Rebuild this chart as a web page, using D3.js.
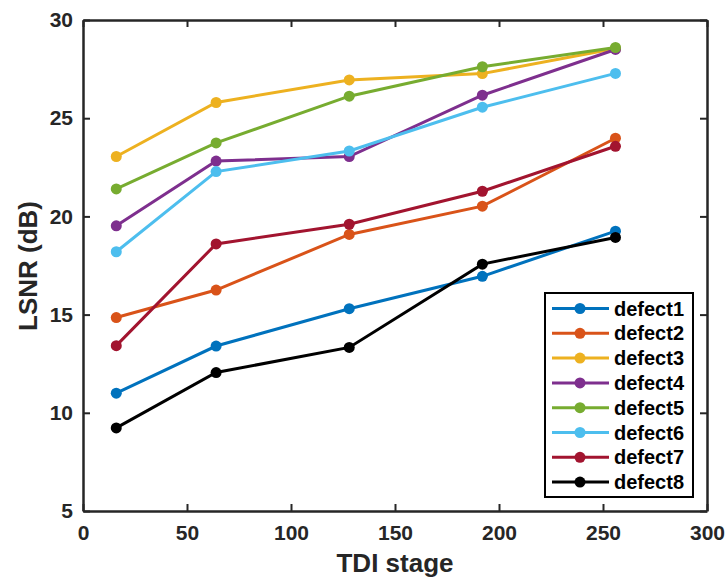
<!DOCTYPE html>
<html>
<head>
<meta charset="utf-8">
<script src="https://d3js.org/d3.v7.min.js"></script>
<style>
body { margin: 0; background: #fff; }
text { font-family: "Liberation Sans", Arial, sans-serif; font-weight: bold; }
</style>
</head>
<body>
<div id="chart"></div>
<script>
var stages = [16, 64, 128, 192, 256];
var names = ["defect1", "defect2", "defect3", "defect4", "defect5", "defect6", "defect7", "defect8"];
var colors = ["#0072BD", "#D95319", "#EDB120", "#7E2F8E", "#77AC30", "#4DBEEE", "#A2142F", "#000000"];

var defect1 = [11.0, 13.4, 15.3, 16.95, 19.25];
var defect2 = [14.85, 16.25, 19.08, 20.52, 23.98];
var defect3 = [23.05, 25.8, 26.95, 27.27, 28.55];
var defect4 = [19.52, 22.82, 23.05, 26.17, 28.5];
var defect5 = [21.4, 23.74, 26.12, 27.62, 28.6];
var defect6 = [18.2, 22.28, 23.33, 25.56, 27.28];
var defect7 = [13.42, 18.6, 19.6, 21.28, 23.57];
var defect8 = [9.23, 12.05, 13.33, 17.57, 18.93];
var series = [defect1, defect2, defect3, defect4, defect5, defect6, defect7, defect8];

var xTicks = [0, 50, 100, 150, 200, 250, 300];
var yTicks = [5, 10, 15, 20, 25, 30];

var svgW = 727, svgH = 578;
var margin = {left: 83, right: 20, top: 20, bottom: 67};
var chartW = svgW - margin.left - margin.right;
var chartH = svgH - margin.top - margin.bottom;

var svg = d3.select("#chart").append("svg")
    .attr("width", svgW)
    .attr("height", svgH);

var g = svg.append("g")
    .attr("transform", `translate(${margin.left}, ${margin.top})`);

var xScale = d3.scaleLinear().domain([0, 300]).range([0, chartW]);
var yScale = d3.scaleLinear().domain([5, 30]).range([chartH, 0]);

var axisColor = "#262626";

// axes with inward ticks, MATLAB style box
var bottomAxis = d3.axisBottom(xScale).tickValues(xTicks).tickSizeInner(-7).tickSizeOuter(0).tickPadding(14);
var leftAxis = d3.axisLeft(yScale).tickValues(yTicks).tickSizeInner(-7).tickSizeOuter(0).tickPadding(10);
var topAxis = d3.axisTop(xScale).tickValues(xTicks).tickSizeInner(-7).tickSizeOuter(0).tickFormat("");
var rightAxis = d3.axisRight(yScale).tickValues(yTicks).tickSizeInner(-7).tickSizeOuter(0).tickFormat("");

var axes = [
    g.append("g").attr("transform", `translate(0, ${chartH})`).call(bottomAxis),
    g.append("g").call(leftAxis),
    g.append("g").call(topAxis),
    g.append("g").attr("transform", `translate(${chartW}, 0)`).call(rightAxis)
];
axes.forEach(a => {
    a.select(".domain").attr("stroke", axisColor).attr("stroke-width", 2.5);
    a.selectAll(".tick line").attr("stroke", axisColor).attr("stroke-width", 2);
    a.selectAll(".tick text").attr("fill", axisColor).style("font-size", "21px").style("font-family", "Liberation Sans, Arial, sans-serif").style("font-weight", "bold");
});

// lines + markers
var line = d3.line()
    .x((d, i) => xScale(stages[i]))
    .y(d => yScale(d));

series.forEach((vals, k) => {
    g.append("path")
        .datum(vals)
        .attr("d", line)
        .attr("fill", "none")
        .attr("stroke", colors[k])
        .attr("stroke-width", 3);
    g.selectAll(".pt" + k)
        .data(vals)
        .enter()
        .append("circle")
        .attr("class", "pt" + k)
        .attr("cx", (d, i) => xScale(stages[i]))
        .attr("cy", d => yScale(d))
        .attr("r", 5.5)
        .attr("fill", colors[k]);
});

// axis titles
svg.append("text")
    .attr("x", margin.left + chartW / 2)
    .attr("y", 572)
    .attr("text-anchor", "middle")
    .attr("fill", axisColor)
    .style("font-size", "26px")
    .text("TDI stage");

svg.append("text")
    .attr("transform", "translate(37, 266) rotate(-90)")
    .attr("text-anchor", "middle")
    .attr("fill", axisColor)
    .style("font-size", "26px")
    .text("LSNR (dB)");

// legend
var legend = svg.append("g").attr("transform", "translate(545, 293)");
legend.append("rect")
    .attr("width", 148)
    .attr("height", 204)
    .attr("fill", "#fff")
    .attr("stroke", "#000")
    .attr("stroke-width", 2);

names.forEach((n, k) => {
    var ly = 15.5 + k * 24.8;
    legend.append("line")
        .attr("x1", 7).attr("x2", 64)
        .attr("y1", ly).attr("y2", ly)
        .attr("stroke", colors[k])
        .attr("stroke-width", 3);
    legend.append("circle")
        .attr("cx", 35).attr("cy", ly)
        .attr("r", 5.5)
        .attr("fill", colors[k]);
    legend.append("text")
        .attr("x", 69)
        .attr("y", ly + 7)
        .attr("fill", "#000")
        .style("font-size", "20px")
        .text(n);
});
</script>
</body>
</html>
